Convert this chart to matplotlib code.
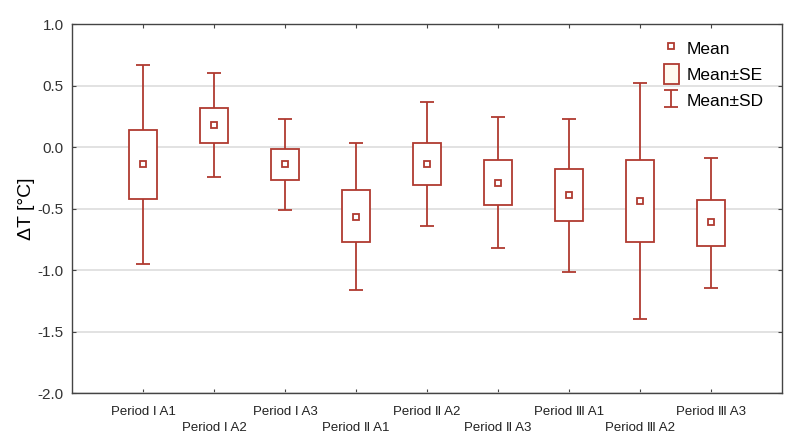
import numpy as np
import matplotlib.pyplot as plt
from matplotlib.patches import Patch
from matplotlib.lines import Line2D

plt.rcParams['font.family'] = ['Liberation Sans', 'DejaVu Sans']

# category labels (roman numerals as unicode)
labels = ['Period Ⅰ A1', 'Period Ⅰ A2', 'Period Ⅰ A3',
          'Period Ⅱ A1', 'Period Ⅱ A2', 'Period Ⅱ A3',
          'Period Ⅲ A1', 'Period Ⅲ A2', 'Period Ⅲ A3']
# values
mean = [-0.133, 0.185, -0.133, -0.566, -0.135, -0.29, -0.39, -0.433, -0.61]
se_low = [-0.417, 0.033, -0.263, -0.772, -0.31, -0.47, -0.60, -0.77, -0.80]
se_high = [0.144, 0.32, -0.01, -0.35, 0.036, -0.10, -0.173, -0.10, -0.427]
sd_low = [-0.946, -0.24, -0.507, -1.16, -0.64, -0.82, -1.01, -1.395, -1.14]
sd_high = [0.672, 0.60, 0.233, 0.036, 0.366, 0.25, 0.233, 0.52, -0.086]

red = '#b03a30'
x = np.arange(1, len(labels) + 1)

fig = plt.figure(figsize=(7.93, 4.41), dpi=100)
ax = fig.add_axes([0.091, 0.108, 0.895, 0.837])

# whiskers + caps
ax.vlines(x, sd_low, sd_high, color=red, lw=1.3, zorder=2)
ax.hlines(sd_low, x - 0.1, x + 0.1, color=red, lw=1.3, zorder=2)
ax.hlines(sd_high, x - 0.1, x + 0.1, color=red, lw=1.3, zorder=2)
# SE boxes
se_h = np.array(se_high) - np.array(se_low)
ax.bar(x, se_h, bottom=se_low, width=0.39, facecolor='white',
       edgecolor=red, lw=1.3, zorder=3)
# means
ax.plot(x, mean, 's', ms=4.5, mfc='white', mec=red, mew=1.3, zorder=4)

ax.set_xlim(0, 10)
ax.set_ylim(-2.0, 1.0)
ax.set_yticks(np.arange(-2.0, 1.01, 0.5))
ax.set_yticklabels(['%.1f' % v for v in np.arange(-2.0, 1.01, 0.5)], fontsize=11, color='#333333')
ax.set_xticks(x)
xl = [lab if i % 2 == 0 else '\n' + lab for i, lab in enumerate(labels)]
ax.set_xticklabels(xl, fontsize=9.5, linespacing=1.45, color='#222222')
ax.yaxis.grid(True, color='#dddddd', lw=1.2)
ax.set_axisbelow(True)
ax.tick_params(direction='in', length=3, top=True, right=True, color='#444444')
ax.tick_params(axis='x', pad=9)
ax.tick_params(axis='y', pad=6)
for s in ax.spines.values():
    s.set_color('#444444')
    s.set_linewidth(1.0)
ax.set_ylabel('ΔT [°C]', fontsize=14, labelpad=2)

# legend
h_mean = Line2D([], [], marker='s', ls='none', ms=5, mfc='white', mec=red, mew=1.3)
h_se = Patch(facecolor='#fffaf0', edgecolor=red, lw=1.3)
h_sd = ax.errorbar([np.nan], [np.nan], yerr=[[1], [1]], fmt='none',
                   ecolor=red, elinewidth=1.3, capsize=5, capthick=1.3)
leg = ax.legend([h_mean, h_se, h_sd], ['Mean', 'Mean±SE', 'Mean±SD'],
                loc='upper right', bbox_to_anchor=(0.997, 1.005), frameon=False,
                fontsize=12.5, handlelength=0.9, handleheight=1.4,
                handletextpad=0.45, labelspacing=0.35)

fig.savefig('out.png')
